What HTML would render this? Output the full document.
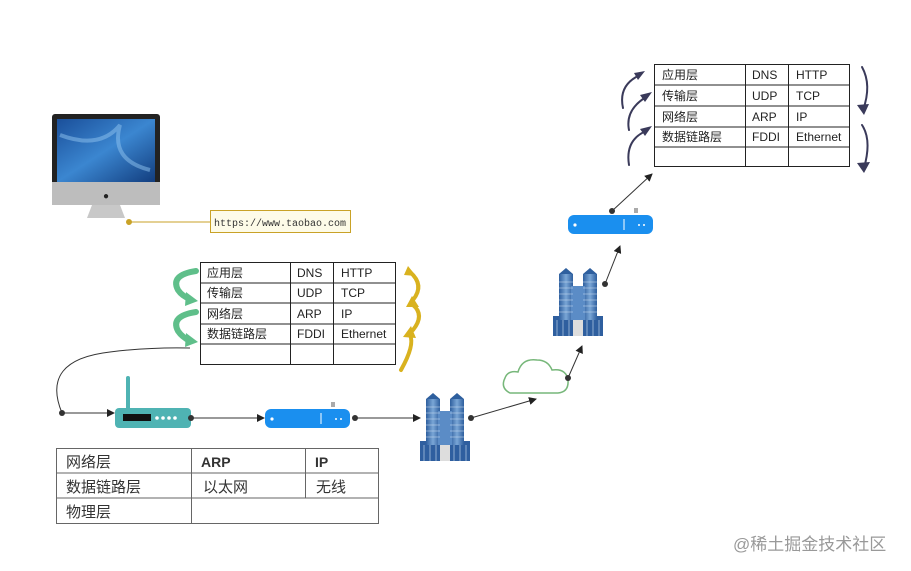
<!DOCTYPE html>
<html><head><meta charset="utf-8"><style>
html,body{margin:0;padding:0;background:#fff;}
svg{display:block;font-family:"Liberation Sans","Noto Sans CJK SC",sans-serif;}
</style></head><body>
<svg width="911" height="571" viewBox="0 0 911 571" xmlns="http://www.w3.org/2000/svg">
<defs>
<marker id="ar" markerWidth="8" markerHeight="8" refX="7" refY="4" orient="auto" markerUnits="userSpaceOnUse"><path d="M0,0 L8,4 L0,8 z" fill="#222"/></marker>
<linearGradient id="scr" x1="0" y1="0" x2="1" y2="1"><stop offset="0" stop-color="#1a4f9a"/><stop offset="0.5" stop-color="#3b86d0"/><stop offset="1" stop-color="#123d7e"/></linearGradient>
<linearGradient id="bld" x1="0" y1="0" x2="1" y2="0"><stop offset="0" stop-color="#2e5f9e"/><stop offset="0.5" stop-color="#7aa6d6"/><stop offset="1" stop-color="#2e5f9e"/></linearGradient>
<g id="building">
<rect x="0" y="48" width="50" height="20" fill="#2f5f9f"/>
<rect x="6" y="6" width="14" height="46" fill="url(#bld)"/>
<rect x="30" y="6" width="14" height="46" fill="url(#bld)"/>
<rect x="18" y="18" width="14" height="34" fill="#5b8cc6"/>
<path d="M6 6 L13 0 L20 6z M30 6 L37 0 L44 6z" fill="#2e5f9e"/>
<rect x="20" y="52" width="10" height="16" fill="#ddd"/>
<g stroke="#cfe0f3" stroke-width="0.6"><path d="M6 14h14M6 20h14M6 26h14M6 32h14M6 38h14M6 44h14M30 14h14M30 20h14M30 26h14M30 32h14M30 38h14M30 44h14M4 52v16M10 52v16M16 52v16M34 52v16M40 52v16M46 52v16"/></g>
</g>
<g id="sw">
<rect x="0" y="0" width="85" height="19" rx="6" fill="#1a8fef"/>
<circle cx="7" cy="10" r="1.6" fill="#fff"/><line x1="56" y1="4" x2="56" y2="15" stroke="#fff"/>
<circle cx="71" cy="10" r="1" fill="#fff"/><circle cx="76" cy="10" r="1" fill="#fff"/>
<path d="M67 -7v5M69 -7v5" stroke="#555"/>
</g>
</defs>

<rect x="52" y="114" width="108" height="80" rx="3" fill="#222"/>
<rect x="57" y="119" width="98" height="63" fill="url(#scr)"/>
<path d="M60 135 Q100 150 120 125 Q110 160 150 170" stroke="#8fc3f0" stroke-width="4" fill="none" opacity="0.5"/>
<rect x="52" y="182" width="108" height="23" fill="#bdbdbd"/>
<text x="106" y="199" font-size="10" text-anchor="middle" fill="#222">●</text>
<path d="M92 205 L120 205 L125 218 L87 218z" fill="#c8c8c8"/>
<line x1="129" y1="222" x2="210" y2="222" stroke="#c9a227"/>
<circle cx="129" cy="222" r="3" fill="#c9a227"/>
<rect x="210.5" y="210.5" width="140" height="22" fill="#fdfbe8" stroke="#c9a227"/>
<text x="280" y="226" font-size="10" text-anchor="middle" font-family="Liberation Mono,monospace" fill="#333">https://www.taobao.com</text>

<g stroke="#222" stroke-width="1" fill="none">
<rect x="200.5" y="262.5" width="195" height="102"/>
<path d="M200 283h195M200 303h195M200 324h195M200 344h195M290.5 262v102M333.5 262v102"/>
</g>
<g font-size="12" fill="#222">
<text x="207" y="277">应用层</text><text x="297" y="277">DNS</text><text x="341" y="277">HTTP</text>
<text x="207" y="297">传输层</text><text x="297" y="297">UDP</text><text x="341" y="297">TCP</text>
<text x="207" y="318">网络层</text><text x="297" y="318">ARP</text><text x="341" y="318">IP</text>
<text x="207" y="338">数据链路层</text><text x="297" y="338">FDDI</text><text x="341" y="338">Ethernet</text>
</g>
<g fill="none" stroke="#5fbf8a" stroke-width="6" stroke-linecap="round">
<path d="M196 271 Q170 275 178 290 Q182 296 190 299"/>
<path d="M196 312 Q170 316 178 331 Q182 337 190 341"/>
</g>
<path d="M186 292 L198 301 L185 306z M186 333 L198 342 L185 347z" fill="#5fbf8a"/>
<g fill="none" stroke="#d9b21f" stroke-width="4" stroke-linecap="round">
<path d="M401 370 Q415 345 410 335"/><path d="M413 330 Q425 315 413 305"/><path d="M413 300 Q425 285 410 272"/>
</g>
<path d="M403 337 L411 326 L416 338z M406 307 L412 296 L419 307z M404 275 L408 266 L416 276z" fill="#d9b21f"/>

<g stroke="#222" stroke-width="1" fill="none">
<rect x="654.5" y="64.5" width="195" height="102"/>
<path d="M654 85h195M654 106h195M654 127h195M654 147h195M745.5 64v102M788.5 64v102"/>
</g>
<g font-size="12" fill="#222">
<text x="662" y="79">应用层</text><text x="752" y="79">DNS</text><text x="796" y="79">HTTP</text>
<text x="662" y="100">传输层</text><text x="752" y="100">UDP</text><text x="796" y="100">TCP</text>
<text x="662" y="121">网络层</text><text x="752" y="121">ARP</text><text x="796" y="121">IP</text>
<text x="662" y="141">数据链路层</text><text x="752" y="141">FDDI</text><text x="796" y="141">Ethernet</text>
</g>
<g fill="none" stroke="#3a3a5a" stroke-width="2" stroke-linecap="round">
<path d="M623 108 Q618 85 640 75"/><path d="M629 130 Q625 110 646 97"/><path d="M629 165 Q625 140 646 131"/>
<path d="M862 67 Q872 85 863 110"/><path d="M862 125 Q872 140 864 168"/>
</g>
<path d="M634 73 L645 71 L638 80z M640 95 L652 92 L645 102z M640 129 L652 126 L645 136z M857 105 L864 115 L869 104z M857 163 L864 173 L870 162z" fill="#3a3a5a"/>

<g stroke="#333" stroke-width="1" fill="none">
<path d="M62 413 Q40 360 110 352 Q150 347 190 348"/>
<line x1="62" y1="413" x2="114" y2="413" marker-end="url(#ar)"/>
<line x1="191" y1="418" x2="264" y2="418" marker-end="url(#ar)"/>
<line x1="355" y1="418" x2="420" y2="418" marker-end="url(#ar)"/>
<line x1="471" y1="418" x2="536" y2="399" marker-end="url(#ar)"/>
<line x1="568" y1="378" x2="582" y2="346" marker-end="url(#ar)"/>
<line x1="605" y1="284" x2="620" y2="246" marker-end="url(#ar)"/>
<line x1="612" y1="211" x2="652" y2="174" marker-end="url(#ar)"/>
</g>
<rect x="126" y="376" width="4" height="34" rx="2" fill="#4fb3b3"/>
<rect x="115" y="408" width="76" height="20" rx="4" fill="#4fb3b3"/>
<rect x="123" y="414" width="28" height="7" fill="#111"/>
<g fill="#fff"><circle cx="157" cy="418" r="1.8"/><circle cx="163" cy="418" r="1.8"/><circle cx="169" cy="418" r="1.8"/><circle cx="175" cy="418" r="1.8"/></g>
<use href="#sw" x="265" y="409"/>
<use href="#sw" x="568" y="215"/>
<use href="#building" x="420" y="393"/>
<use href="#building" x="553" y="268"/>
<path d="M510 393 Q500 388 505 378 Q508 370 518 372 Q522 358 537 360 Q548 360 552 370 Q566 368 568 380 Q569 392 558 393 Z" fill="#fff" stroke="#77b77a" stroke-width="1.5"/>
<g fill="#333">
<circle cx="62" cy="413" r="3"/><circle cx="191" cy="418" r="3"/><circle cx="355" cy="418" r="3"/><circle cx="471" cy="418" r="3"/><circle cx="568" cy="378" r="3"/><circle cx="605" cy="284" r="3"/><circle cx="612" cy="211" r="3"/>
</g>

<g stroke="#666" stroke-width="1" fill="none">
<rect x="56.5" y="448.5" width="322" height="75"/>
<path d="M56 473h322M56 498h322M191.5 448v76M305.5 448v50"/>
</g>
<g font-size="15" fill="#333">
<text x="66" y="467">网络层</text><text x="201" y="467" font-weight="bold" font-size="14">ARP</text><text x="315" y="467" font-weight="bold" font-size="14">IP</text>
<text x="66" y="492">数据链路层</text><text x="203" y="492">以太网</text><text x="316" y="492">无线</text>
<text x="66" y="517">物理层</text>
</g>

<text x="733" y="550" font-size="17" fill="#999">@稀土掘金技术社区</text>
</svg>
</body></html>
